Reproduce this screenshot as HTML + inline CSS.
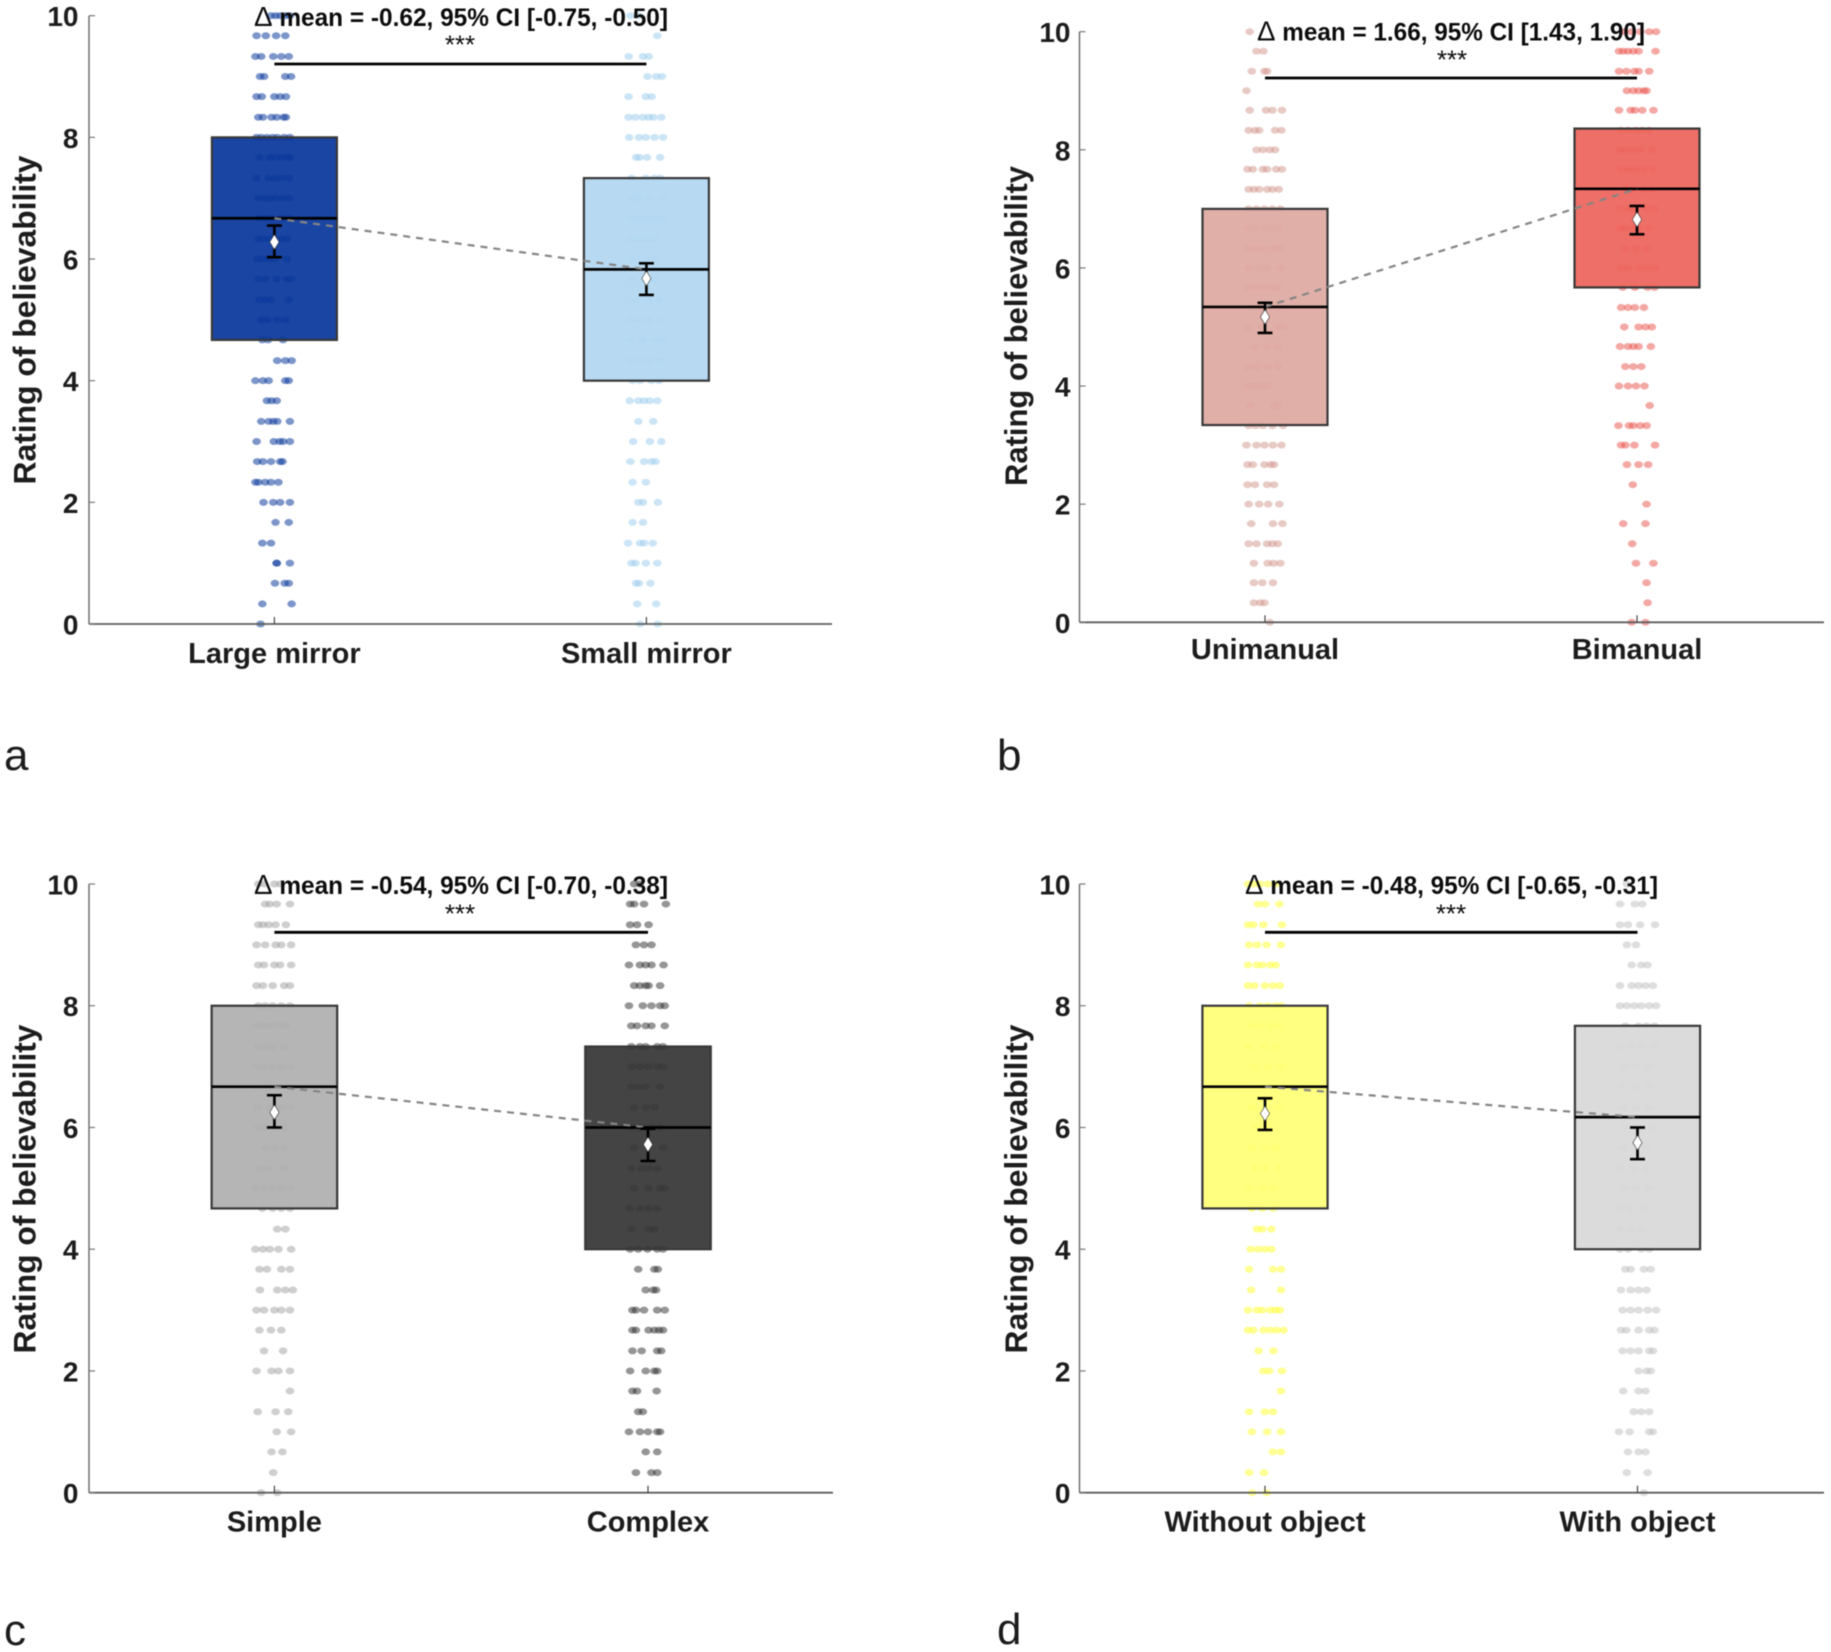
<!DOCTYPE html>
<html lang="en">
<head>
<meta charset="utf-8">
<title>Rating of believability by condition</title>
<style>
html,body{margin:0;padding:0;background:#fff;}
svg{display:block;filter:blur(0.5px);}
text{font-family:"Liberation Sans",sans-serif;fill:#1c1c1c;}
.title{font-size:31.5px;font-weight:700;text-anchor:middle;}
.delta{font-size:24.6px;font-weight:700;text-anchor:middle;fill:#0c0c0c;}
.delta-sign{font-size:28px;font-weight:400;}
.stars{font-size:26px;font-weight:400;text-anchor:middle;fill:#0c0c0c;}
.letter{font-size:44px;font-weight:400;}
.tick{font-size:28px;font-weight:700;text-anchor:end;}
.cat{font-size:29px;font-weight:700;text-anchor:middle;}
</style>
</head>
<body>
<svg id="figure" xmlns="http://www.w3.org/2000/svg" width="1831" height="1652" viewBox="0 0 1831 1652">
  <rect width="1831" height="1652" fill="#fff"/>

  <g id="panel-a"></g>
  <g id="panel-b"></g>
  <g id="panel-c"></g>
  <g id="panel-d"></g>

  <text class="title" transform="translate(35.5,320) rotate(-90)" textLength="329" lengthAdjust="spacingAndGlyphs">Rating of believability</text>
  <text class="title" transform="translate(1027,326) rotate(-90)" textLength="320" lengthAdjust="spacingAndGlyphs">Rating of believability</text>
  <text class="title" transform="translate(35.5,1189) rotate(-90)" textLength="329" lengthAdjust="spacingAndGlyphs">Rating of believability</text>
  <text class="title" transform="translate(1027,1189) rotate(-90)" textLength="329" lengthAdjust="spacingAndGlyphs">Rating of believability</text>

  <text class="delta" x="461" y="26" textLength="414" lengthAdjust="spacingAndGlyphs"><tspan class="delta-sign">Δ</tspan> mean = -0.62, 95% CI [-0.75, -0.50]</text>
  <text class="delta" x="1451" y="40.7" textLength="388" lengthAdjust="spacingAndGlyphs"><tspan class="delta-sign">Δ</tspan> mean = 1.66, 95% CI [1.43, 1.90]</text>
  <text class="delta" x="461" y="894" textLength="414" lengthAdjust="spacingAndGlyphs"><tspan class="delta-sign">Δ</tspan> mean = -0.54, 95% CI [-0.70, -0.38]</text>
  <text class="delta" x="1451.5" y="894" textLength="413" lengthAdjust="spacingAndGlyphs"><tspan class="delta-sign">Δ</tspan> mean = -0.48, 95% CI [-0.65, -0.31]</text>

  <text class="stars" x="460" y="53.5">***</text>
  <text class="stars" x="1452" y="68.5">***</text>
  <text class="stars" x="460" y="922.5">***</text>
  <text class="stars" x="1451" y="922.5">***</text>

  <text class="letter" x="4" y="770">a</text>
  <text class="letter" x="997" y="770">b</text>
  <text class="letter" x="4" y="1645">c</text>
  <text class="letter" x="997" y="1644">d</text>
</svg>

<script>
/* ---------- shared axis values ---------- */
const yTicks = [0, 2, 4, 6, 8, 10];
const ratingLevels = [10, 9.67, 9.33, 9, 8.67, 8.33, 8, 7.67, 7.33, 7, 6.67, 6.33, 6, 5.67, 5.33, 5, 4.67, 4.33, 4, 3.67, 3.33, 3, 2.67, 2.33, 2, 1.67, 1.33, 1, 0.67, 0.33, 0];

/* ---------- panel a ---------- */
const categoriesA = ['Large mirror', 'Small mirror'];
const q1A = [4.67, 4];
const medianA = [6.67, 5.83];
const q3A = [8, 7.33];
const meanA = [6.28, 5.68];
const ciLowA = [6.03, 5.41];
const ciHighA = [6.55, 5.93];
const jitterLargeMirror = [
[-6,2,10,19,27],[-31,-15,3,19],[-33,-23,-2,12,25],[-25,-18,19,29],[-31,-22,0,10,20],[-28,-20,-5,4,16,20],
[-31,-23,-13,-3,5,17,27],[-26,-8,2,12,22,27],[-31,-10,0,12,25],[-28,-18,-8,2,14,25],[-26,-16,-5,12,25],
[-28,-20,-10,0,12,22],[-30,-20,-10,0,22],[-28,-16,4,22,29],[-26,-16,-6,25],[-23,-13,5,19],[-21,-11,15],
[5,19,30],[-33,-20,-10,19,25],[-13,-5,4],[-23,-10,-2,5,27],[-31,-1,9,15,27],[-30,-20,-6,10,14],
[-33,-28,-16,-6,7],[-19,-2,10,27],[2,25],[-21,-6],[4,4,27],[1,18,25],[-21,30],[-24]];
const jitterSmallMirror = [
[-28,-14],[19],[-31,-6,4],[2,17,27],[-31,-1,9],[-31,-19,-6,4,12,26],[-30,-13,-1,14,29],[-18,-12,1,24],
[-26,-1,14,24],[-26,-14,4,29],[-28,-16,-1,14,27],[-28,-16,-1,14],[-26,-1,14],[-26,-1,14],[-21,4,22],
[-28,-14,4,24],[-28,-6,14,29],[-28,-11,6,24],[-24,-11,9,22],[-29,-14,-4,6,19],[-14,12],[-23,6,26],
[-28,-4,9,16],[-24,-1],[-14,-6,20],[-24,-6],[-32,-11,-4,11],[-26,-19,-1,19],[-18,-13,7],[-16,17],[-11,20]];

/* ---------- panel b ---------- */
const categoriesB = ['Unimanual', 'Bimanual'];
const q1B = [3.34, 5.67];
const medianB = [5.34, 7.34];
const q3B = [7, 8.36];
const meanB = [5.17, 6.82];
const ciLowB = [4.9, 6.57];
const ciHighB = [5.41, 7.05];
const jitterUnimanual = [
[-29],[-16,-3],[-25,-1,4],[-35],[-29,2,14,32],[-31,-19,-11,19,31],[-16,-4,9,19],[-33,-23,-4,4,21,32],
[-31,-21,-11,4,14,26],[-31,-16,-1,14,29],[-31,-19,-1,14,26],[-33,-18,-1,17,29],[-31,-11,4,29],
[-31,-16,-1,14,24],[-26,-11,9,24],[-31,-6,24,34],[-19,4,24],[-33,-16,4,24],[-33,-21,-9,4],[-29,17,24],
[-31,-18,-4,14,34],[-35,-16,-1,15,31],[-33,-23,-1,11,17],[-33,-19,4,17],[-31,-11,6,27],[-26,15,33],
[-31,-16,4,14,24],[-21,5,16,29],[-21,-5,15],[-21,-9,-1],[9]];
const jitterBimanual = [
[-24,-10,6,23,36],[-34,-26,-17,-7,3,35],[-34,-20,-5,3,23],[-19,-7,3,13,18],[-34,-12,-4,10,31],
[-30,-17,-2,10,23],[-32,-22,-7,8,28],[-30,-17,-2,13,30],[-22,-7,13,28],[-32,-17,-7,18,33],[-32,-22,-7,3,23],
[-22,-2,18],[-30,-17,3,18,33],[-27,-4,20,33],[-30,-17,-4,13],[-24,3,16,28],[-32,-17,-7,3,26],[-22,-7,8],
[-34,-17,-2,14],[24],[-35,-15,-7,6,18],[-30,-22,-5,34],[-19,3,21],[-8],[18],[-26,16],[-9],[-2,31],[18],[20],[-10,16]];

/* ---------- panel c ---------- */
const categoriesC = ['Simple', 'Complex'];
const q1C = [4.67, 4];
const medianC = [6.67, 6];
const q3C = [8, 7.33];
const meanC = [6.25, 5.72];
const ciLowC = [6, 5.45];
const ciHighC = [6.53, 5.98];
const jitterSimple = [
[-28,-18,0,10],[-16,-8,4,27],[-28,-20,-10,2,20],[-31,-16,2,12,29],[-28,-18,0,10,29],[-31,-20,-3,17,27],
[-28,-16,-3,12,27],[-33,-20,-8,7,20],[-28,-13,-3,17],[-31,-18,-3,12,27],[-31,-13,5,27],[-28,-8,12,27],
[-28,-16,2,17],[-16,0,17],[-23,-8,17],[-33,-18,-3,12,27],[-21,-3,12,27],[5,19],[-33,-20,-8,7,29],
[-26,-13,12,27],[-25,5,19,32],[-31,-18,0,12,27],[-26,-6,12],[-18,15],[-31,-5,7,27],[27],[-29,2,24],[4,29],
[-5,14],[-2],[-23,5]];
const jitterComplex = [
[-24,-14],[-31,-24,-7,31],[-31,-19,1],[-21,-7,6],[-33,-14,-4,6,27],[-24,-14,-4,1,21],[-33,-9,6,21,29],
[-29,-19,-4,6,29],[-29,-14,-4,16,26],[-29,-14,1,16,26],[-29,-17,-4,21],[-24,-4,11],[-29,-14,6,21],[-24,1,26],
[-29,-11,1,16],[-24,1,21,29],[-31,-14,1,16],[-29,1,11],[-31,-17,-1,16,26],[-17,11,17],[-4,9,14],
[-27,-21,-7,16,29],[-27,-21,1,11,19,26],[-27,-11,16,23],[-31,-4,11,16],[-27,-19,15],[-17,-9],
[-33,-14,0,16,21],[-4,16],[-21,6,16],[]];

/* ---------- panel d ---------- */
const categoriesD = ['Without object', 'With object'];
const q1D = [4.67, 4];
const medianD = [6.67, 6.17];
const q3D = [8, 7.67];
const meanD = [6.23, 5.75];
const ciLowD = [5.96, 5.48];
const ciHighD = [6.48, 6];
const jitterWithoutObject = [
[-32,-22,-10,5,20],[-13,0,27],[-32,-22,-3,32],[-30,-15,3,30],[-32,-15,-5,10,20],[-32,-20,0,15,28],
[-30,-10,5,20,30],[-25,-10,10,25],[-30,0,20],[-20,5,30],[-30,-5,15],[-25,0,25],[-15,10],[-25,0,20],
[-20,0,25],[-30,-5,15],[-25,-5,15],[-15,-5,12],[-27,-13,0,12],[-30,15,30],[-26,30],[-32,-15,-5,10,20,28],
[-32,-22,-3,10,22,35],[-12,16],[-3,8,32],[30],[-30,0,15],[-25,4,30],[15,30],[-30,-2],[-24,3]];
const jitterWithObject = [
[-20],[-33,-5,9],[-33,-18,5,33],[-20,-3],[-11,7,19],[-33,-11,2,15,29],[-33,-20,-6,7,22,35],[-23,2,17,32],
[-33,-13,7,32],[-25,-3,22],[-28,-3,22],[-28,-3,22],[-23,7,27],[-28,-3,17],[-31,-8,17],[-25,-3,22],
[-33,-13,12],[-33,-13,7],[-33,-18,7,22],[-23,-13,12,25],[-31,-13,2,17],[-28,-13,2,19,35],[-31,-21,2,22,32],
[-28,-13,2,22,29],[2,17,25],[-27,2,15],[-7,7,22],[-35,-15,22,29],[-18,2,15],[-20,19],[12]];

/* ---------- layout and styling (separate from the data above) ---------- */
const NS = 'http://www.w3.org/2000/svg';
const panels = [
  { id:'panel-a', cats:categoriesA, q1:q1A, med:medianA, q3:q3A, mean:meanA, lo:ciLowA, hi:ciHighA,
    jitter:[jitterLargeMirror, jitterSmallMirror], jitterPerCat:648,
    left:89, right:832, yTop:15.7, yZero:624, x0:274.4, x1:646.4, sigY:64, catY:663, tickX:78.5,
    fill:['#09379b','#b2d7f1'], dot:['#123f9f','#a3cfef'], dotAlpha:[0.55,0.55] },
  { id:'panel-b', cats:categoriesB, q1:q1B, med:medianB, q3:q3B, mean:meanB, lo:ciLowB, hi:ciHighB,
    jitter:[jitterUnimanual, jitterBimanual], jitterPerCat:702,
    left:1079.5, right:1824, yTop:31.7, yZero:622.3, x0:1265, x1:1637, sigY:78, catY:659, tickX:1070.5,
    fill:['#dea9a1','#ed645b'], dot:['#d2958c','#ea5249'], dotAlpha:[0.5,0.5] },
  { id:'panel-c', cats:categoriesC, q1:q1C, med:medianC, q3:q3C, mean:meanC, lo:ciLowC, hi:ciHighC,
    jitter:[jitterSimple, jitterComplex], jitterPerCat:648,
    left:89, right:833, yTop:884, yZero:1492.7, x0:274.4, x1:648, sigY:932.3, catY:1531.7, tickX:78.5,
    fill:['#afafaf','#363636'], dot:['#a0a0a0','#2e2e2e'], dotAlpha:[0.5,0.5] },
  { id:'panel-d', cats:categoriesD, q1:q1D, med:medianD, q3:q3D, mean:meanD, lo:ciLowD, hi:ciHighD,
    jitter:[jitterWithoutObject, jitterWithObject], jitterPerCat:702,
    left:1079.5, right:1824, yTop:884, yZero:1492.7, x0:1265, x1:1637.5, sigY:932.3, catY:1531.7, tickX:1070.5,
    fill:['#ffff76','#d8d8d8'], dot:['#ffff4d','#bebebe'], dotAlpha:[0.6,0.5] }
];
const boxHalfWidth = 0.168;
const capHalfWidth = 0.02;
const boxAlpha = 0.93;

function shape(tag, parent, attrs) {
  const node = document.createElementNS(NS, tag);
  for (const key in attrs) node.setAttribute(key, attrs[key]);
  parent.appendChild(node);
  return node;
}

panels.forEach(function (p) {
  const root = document.getElementById(p.id);
  const xAxis = function (c) { return p.x0 + c * (p.x1 - p.x0); };
  const yAxis = function (v) { return p.yZero - v * (p.yZero - p.yTop) / 10; };

  /* jittered rating dots, beneath the boxes */
  p.jitter.forEach(function (rows, c) {
    rows.forEach(function (row, level) {
      row.forEach(function (j) {
        const dot = shape('ellipse', root, {
          cx: xAxis(c + j / p.jitterPerCat),
          cy: yAxis(ratingLevels[level]),
          rx: 4.3,
          ry: 3.5,
          fill: p.dot[c],
          'fill-opacity': p.dotAlpha[c]
        });
        
        
      });
    });
  });

  /* axes */
  const yLine = shape('line', root, { x1:p.left, x2:p.left, y1:p.yTop, y2:p.yZero, stroke:'#666', 'stroke-width':1.4 });
  
  
  const xLine = shape('line', root, { x1:p.left, x2:p.right, y1:p.yZero, y2:p.yZero, stroke:'#5e5e5e', 'stroke-width':1.8 });
  
  

  yTicks.forEach(function (v) {
    const mark = shape('line', root, { x1:p.left, x2:p.left + 6, y1:yAxis(v), y2:yAxis(v), stroke:'#777', 'stroke-width':1.2 });
    
    
    const label = shape('text', root, { x:p.tickX, y:yAxis(v) + 10.5, class:'tick' });
    label.textContent = String(v);
    
    
  });

  /* boxes */
  p.cats.forEach(function (name, c) {
    const bx = xAxis(c - boxHalfWidth);
    const bw = xAxis(c + boxHalfWidth) - bx;
    const box = shape('rect', root, {
      x: bx, y: yAxis(p.q3[c]), width: bw, height: yAxis(p.q1[c]) - yAxis(p.q3[c]),
      fill: p.fill[c], 'fill-opacity': boxAlpha, stroke: '#383838', 'stroke-width': 2.2
    });
    
    
    const median = shape('line', root, {
      x1: bx, x2: bx + bw, y1: yAxis(p.med[c]), y2: yAxis(p.med[c]), stroke: '#000', 'stroke-width': 2.7
    });
    
    

    const tick = shape('line', root, { x1:xAxis(c), x2:xAxis(c), y1:p.yZero - 7, y2:p.yZero, stroke:'#444', 'stroke-width':1.2 });
    
    
    const label = shape('text', root, { x:xAxis(c), y:p.catY, class:'cat' });
    label.textContent = name;
    
    
  });

  /* dashed connection between medians */
  const link = shape('line', root, {
    x1: xAxis(0), y1: yAxis(p.med[0]), x2: xAxis(1), y2: yAxis(p.med[1]),
    stroke: '#858585', 'stroke-width': 2.2, 'stroke-dasharray': '7 6'
  });
  
  

  /* error bars and mean markers */
  p.cats.forEach(function (name, c) {
    const stem = shape('line', root, { x1:xAxis(c), x2:xAxis(c), y1:yAxis(p.hi[c]), y2:yAxis(p.lo[c]), stroke:'#000', 'stroke-width':2.6 });
    
    
    const capHigh = shape('line', root, { x1:xAxis(c - capHalfWidth), x2:xAxis(c + capHalfWidth), y1:yAxis(p.hi[c]), y2:yAxis(p.hi[c]), stroke:'#000', 'stroke-width':2.6 });
    
    
    const capLow = shape('line', root, { x1:xAxis(c - capHalfWidth), x2:xAxis(c + capHalfWidth), y1:yAxis(p.lo[c]), y2:yAxis(p.lo[c]), stroke:'#000', 'stroke-width':2.6 });
    
    
    const cx = xAxis(c);
    const cy = yAxis(p.mean[c]);
    const diamond = shape('polygon', root, {
      points: (cx - 4.6) + ',' + cy + ' ' + cx + ',' + (cy - 7.5) + ' ' + (cx + 4.6) + ',' + cy + ' ' + cx + ',' + (cy + 7.5),
      fill: '#fff', stroke: '#333', 'stroke-width': 0.6
    });
    
    
  });

  /* significance bar */
  const sig = shape('line', root, { x1:xAxis(0), x2:xAxis(1), y1:p.sigY, y2:p.sigY, stroke:'#000', 'stroke-width':2.8 });
  
  
});
</script>
</body>
</html>
